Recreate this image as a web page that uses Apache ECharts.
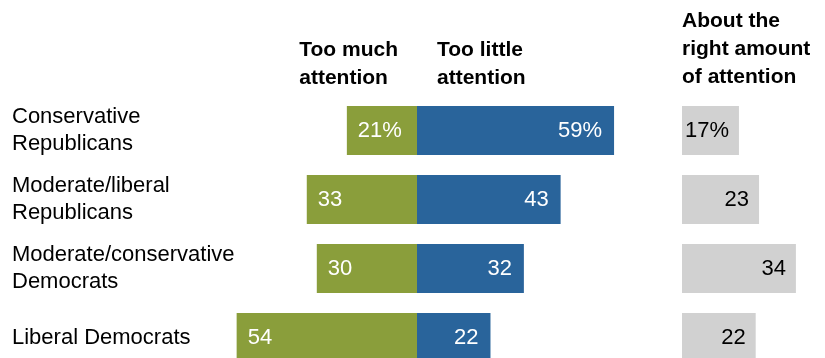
<!DOCTYPE html>
<html>
<head>
<meta charset="utf-8">
<script src="https://cdn.jsdelivr.net/npm/echarts@6/dist/echarts.min.js"></script>
<style>html,body{margin:0;padding:0;background:#fff}#c{width:825px;height:358px}</style>
</head>
<body>
<div id="c"></div>
<script>
var categories = ['Conservative\nRepublicans', 'Moderate/liberal\nRepublicans', 'Moderate/conservative\nDemocrats', 'Liberal Democrats'];
var tooMuch = [21, 33, 30, 54];
var tooLittle = [59, 43, 32, 22];
var aboutRight = [17, 23, 34, 22];
var headers = ['Too much\nattention', 'Too little\nattention', 'About the\nright amount\nof attention'];

var FONT = '"Liberation Sans", Arial, sans-serif';
var GREEN = '#8A9E3B', BLUE = '#29649B', GRAY = '#D1D1D1';

function fmt(p) {
  return Math.abs(p.value) + (p.dataIndex === 0 ? '%' : '');
}

var chart = echarts.init(document.getElementById('c'), null, {renderer: 'canvas'});
chart.setOption({
  animation: false,
  backgroundColor: '#fff',
  grid: [
    {left: 216.6, top: 130.5, width: 400.8, height: 207},
    {left: 682, top: 130.5, width: 134, height: 207}
  ],
  xAxis: [
    {gridIndex: 0, type: 'value', min: -60, max: 60, show: false},
    {gridIndex: 1, type: 'value', min: 0, max: 40, show: false}
  ],
  yAxis: [
    {gridIndex: 0, type: 'category', data: categories, inverse: true, boundaryGap: false,
     axisLine: {show: false}, axisTick: {show: false}, splitLine: {show: false},
     axisLabel: {align: 'left', margin: 204.6, fontFamily: FONT, fontSize: 22, color: '#000',
                 lineHeight: 27.5, padding: [0, 0, 4, 0]}},
    {gridIndex: 1, type: 'category', data: categories, inverse: true, boundaryGap: false, show: false}
  ],
  series: [
    {type: 'bar', name: 'Too much attention', xAxisIndex: 0, yAxisIndex: 0, barWidth: 49, barGap: '-100%',
     data: tooMuch.map(function (v) { return -v; }),
     itemStyle: {color: GREEN},
     label: {show: true, position: 'insideLeft', distance: 11, color: '#fff', fontFamily: FONT, fontSize: 22, formatter: fmt}},
    {type: 'bar', name: 'Too little attention', xAxisIndex: 0, yAxisIndex: 0, barWidth: 49, barGap: '-100%',
     data: tooLittle,
     itemStyle: {color: BLUE},
     label: {show: true, position: 'insideRight', distance: 12, color: '#fff', fontFamily: FONT, fontSize: 22, formatter: fmt}},
    {type: 'bar', name: 'About the right amount of attention', xAxisIndex: 1, yAxisIndex: 1, barWidth: 49,
     data: aboutRight,
     itemStyle: {color: GRAY},
     label: {show: true, position: 'insideRight', distance: 10, color: '#000', fontFamily: FONT, fontSize: 22, formatter: fmt}}
  ],
  graphic: [
    {type: 'text', right: 825 - 398, top: 36, style: {text: headers[0], font: 'bold 21px ' + FONT, fill: '#000', lineHeight: 28, align: 'right'}},
    {type: 'text', left: 437, top: 36, style: {text: headers[1], font: 'bold 21px ' + FONT, fill: '#000', lineHeight: 28}},
    {type: 'text', left: 682, top: 7, style: {text: headers[2], font: 'bold 21px ' + FONT, fill: '#000', lineHeight: 28}}
  ]
});
</script>
</body>
</html>
